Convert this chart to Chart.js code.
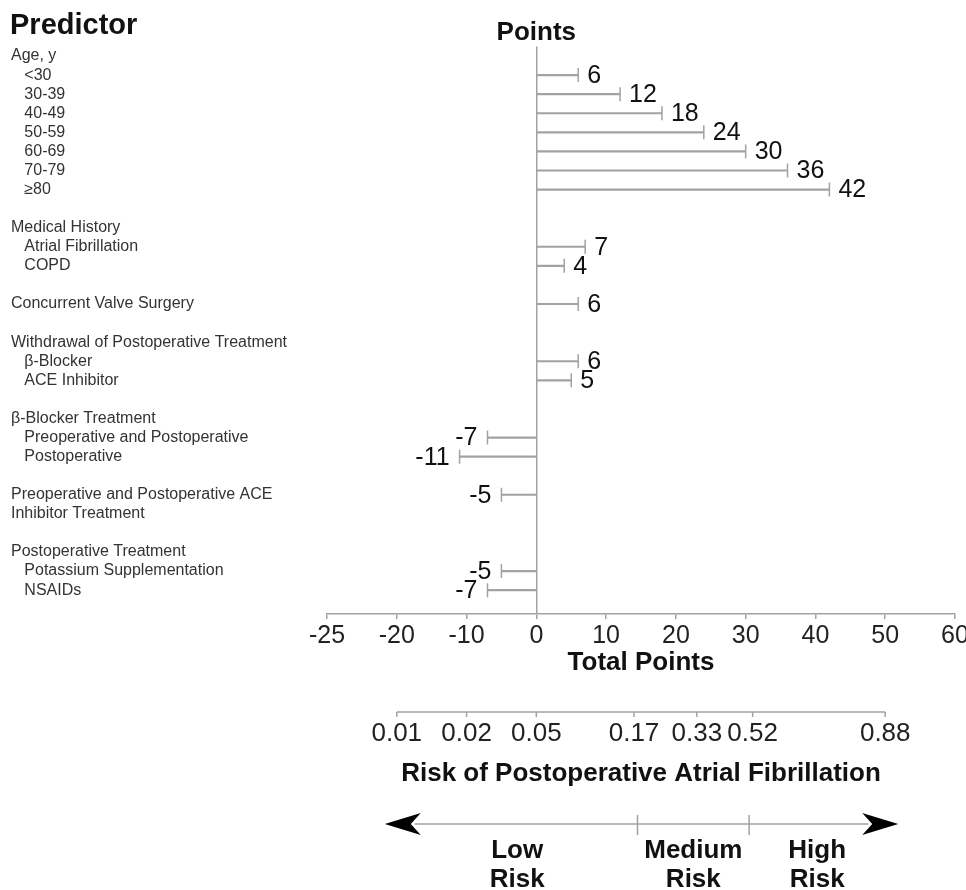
<!DOCTYPE html>
<html>
<head>
<meta charset="utf-8">
<title>Postoperative AF risk score</title>
<script src="https://cdn.jsdelivr.net/npm/chart.js@4.4.1/dist/chart.umd.min.js"></script>
<style>
  body { margin: 0; background: #fff; }
  canvas { display: block; }
</style>
</head>
<body>
<canvas id="nomo" width="966" height="890"></canvas>
<script>
// rows of the left column, blanks are spacer rows between groups
const rowLabels = [
  'Age, y', '<30', '30-39', '40-49', '50-59', '60-69', '70-79', '≥80', '',
  'Medical History', 'Atrial Fibrillation', 'COPD', '',
  'Concurrent Valve Surgery', '',
  'Withdrawal of Postoperative Treatment', 'β-Blocker', 'ACE Inhibitor', '',
  'β-Blocker Treatment', 'Preoperative and Postoperative', 'Postoperative', '',
  'Preoperative and Postoperative ACE', 'Inhibitor Treatment', '',
  'Postoperative Treatment', 'Potassium Supplementation', 'NSAIDs'
];
const rowIndent = [0,1,1,1,1,1,1,1,0, 0,1,1,0, 0,0, 0,1,1,0, 0,1,1,0, 0,0,0, 0,1,1];
const points = [null,6,12,18,24,30,36,42,null, null,7,4,null, 6,null, null,6,5,null,
  null,-7,-11,null, -5,null,null, null,-5,-7];

// points axis (first tick is printed as -25 in the original figure)
const xTickValues = [-30, -20, -10, 0, 10, 20, 30, 40, 50, 60];
const xTickLabels = ['-25', '-20', '-10', '0', '10', '20', '30', '40', '50', '60'];

// risk scale under the points axis
const riskLabels = ['0.01', '0.02', '0.05', '0.17', '0.33', '0.52', '0.88'];
const riskAtPoints = [-20, -10, 0, 14, 23, 31, 50];
const riskGroups = [['Low', 'Risk'], ['Medium', 'Risk'], ['High', 'Risk']];
const riskCuts = [14.5, 30.5];

const FONT = "'Liberation Sans', Arial, Helvetica, sans-serif";
const GRAY = '#a2a2a2';
const Y_MIN = -0.5, Y_MAX = 29.25;

const marks = [];
points.forEach((v, i) => { if (v !== null) marks.push({ x: v, y: i }); });

// headers, value labels and the risk section
const extras = {
  id: 'extras',
  afterDatasetsDraw(chart) {
    const { ctx, scales: { x, y } } = chart;
    ctx.save();
    ctx.fillStyle = '#111';
    ctx.font = '25px ' + FONT;
    ctx.textBaseline = 'middle';
    marks.forEach(m => {
      const px = x.getPixelForValue(m.x);
      const py = y.getPixelForValue(m.y) + 1;
      if (m.x >= 0) {
        ctx.textAlign = 'left';
        ctx.fillText(String(m.x), px + 9, py);
      } else {
        ctx.textAlign = 'right';
        ctx.fillText(String(m.x), px - 10, py);
      }
    });
    ctx.restore();
  },
  afterDraw(chart) {
    const { ctx, scales: { x } } = chart;
    ctx.save();
    ctx.fillStyle = '#111';
    ctx.textBaseline = 'middle';
    ctx.font = 'bold 29px ' + FONT;
    ctx.textAlign = 'left';
    ctx.fillText('Predictor', 10, 26);
    ctx.font = 'bold 26px ' + FONT;
    ctx.textAlign = 'center';
    ctx.fillText('Points', x.getPixelForValue(0), 33);

    // risk axis
    const rLeft = x.getPixelForValue(riskAtPoints[0]);
    const rRight = x.getPixelForValue(riskAtPoints[riskAtPoints.length - 1]);
    const rY = 712;
    ctx.strokeStyle = GRAY;
    ctx.lineWidth = 1.5;
    ctx.beginPath();
    ctx.moveTo(rLeft, rY);
    ctx.lineTo(rRight, rY);
    riskAtPoints.forEach(p => {
      const px = x.getPixelForValue(p);
      ctx.moveTo(px, rY);
      ctx.lineTo(px, rY + 5);
    });
    ctx.stroke();
    ctx.fillStyle = '#222';
    ctx.font = '26px ' + FONT;
    riskLabels.forEach((t, i) => ctx.fillText(t, x.getPixelForValue(riskAtPoints[i]), 734));
    ctx.fillStyle = '#111';
    ctx.font = 'bold 26px ' + FONT;
    ctx.fillText('Risk of Postoperative Atrial Fibrillation', (rLeft + rRight) / 2, 774);

    // arrow with risk groups
    const aY = 824;
    const aL = rLeft - 12, aR = rRight + 13;
    ctx.beginPath();
    ctx.moveTo(aL + 30, aY);
    ctx.lineTo(aR - 30, aY);
    riskCuts.forEach(c => {
      const px = x.getPixelForValue(c);
      ctx.moveTo(px, aY - 9);
      ctx.lineTo(px, aY + 11);
    });
    ctx.stroke();
    ctx.fillStyle = '#000';
    [[aL, 1], [aR, -1]].forEach(([tip, d]) => {
      ctx.beginPath();
      ctx.moveTo(tip, aY);
      ctx.lineTo(tip + d * 36, aY - 11);
      ctx.lineTo(tip + d * 26, aY);
      ctx.lineTo(tip + d * 36, aY + 11);
      ctx.closePath();
      ctx.fill();
    });
    const bounds = [rLeft, ...riskCuts.map(c => x.getPixelForValue(c)), rRight];
    ctx.fillStyle = '#111';
    ctx.font = 'bold 26px ' + FONT;
    riskGroups.forEach((lines, i) => {
      const cx = (bounds[i] + bounds[i + 1]) / 2;
      lines.forEach((t, k) => ctx.fillText(t, cx, 851 + k * 29));
    });
    ctx.restore();
  }
};

new Chart(document.getElementById('nomo'), {
  data: {
    datasets: [
      {
        type: 'bar',
        indexAxis: 'y',
        data: marks,
        backgroundColor: GRAY,
        borderWidth: 0,
        barThickness: 1.5,
        grouped: false
      },
      {
        type: 'scatter',
        data: marks,
        pointStyle: 'line',
        rotation: 90,
        radius: 7,
        borderColor: GRAY,
        borderWidth: 1.5
      }
    ]
  },
  options: {
    responsive: false,
    animation: false,
    devicePixelRatio: 1,
    layout: { padding: { top: 46.5, left: 11, right: 0, bottom: 212 } },
    plugins: { legend: { display: false }, tooltip: { enabled: false } },
    scales: {
      x: {
        type: 'linear',
        bounds: 'data',
        min: -30,
        max: 60,
        afterBuildTicks: s => { s.ticks = xTickValues.map(v => ({ value: v })); },
        afterFit: s => { s.height = 64; s.paddingRight = 11; },
        ticks: {
          autoSkip: false,
          maxRotation: 0,
          padding: 2,
          color: '#222',
          font: { family: FONT, size: 25 },
          callback: (v, i) => xTickLabels[i]
        },
        grid: {
          color: c => (c.tick && c.tick.value === 0 ? GRAY : 'transparent'),
          tickColor: GRAY,
          tickLength: 5,
          lineWidth: 1.5
        },
        border: { color: GRAY, width: 1.5 },
        title: {
          display: true,
          text: 'Total Points',
          color: '#111',
          font: { family: FONT, size: 26, weight: 'bold' },
          padding: 0
        }
      },
      y: {
        type: 'linear',
        bounds: 'data',
        offset: false,
        reverse: true,
        min: Y_MIN,
        max: Y_MAX,
        afterBuildTicks: s => {
          s.ticks = rowLabels.map((_, i) => ({ value: i }));
          s.min = Y_MIN;
          s.max = Y_MAX;
        },
        afterFit: s => { s.width = 316; s.paddingTop = 0; s.paddingBottom = 0; },
        ticks: {
          autoSkip: false,
          crossAlign: 'far',
          padding: 0,
          color: '#333',
          font: { family: FONT, size: 16 },
          callback: v => ' '.repeat(rowIndent[v] * 3) + rowLabels[v]
        },
        grid: { display: false, offset: false },
        border: { display: false }
      }
    }
  },
  plugins: [extras]
});
</script>
</body>
</html>
